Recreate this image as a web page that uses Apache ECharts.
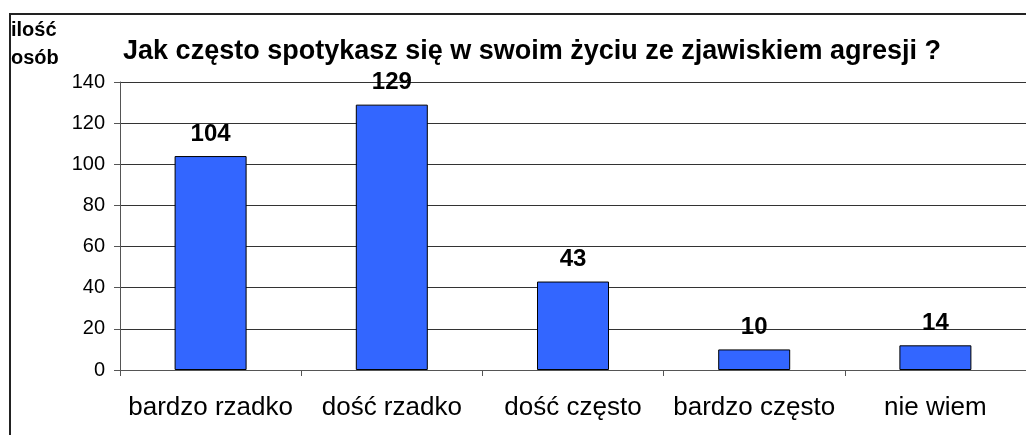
<!DOCTYPE html>
<html>
<head>
<meta charset="utf-8">
<script src="https://cdn.jsdelivr.net/npm/echarts@6/dist/echarts.min.js"></script>
<style>
  html, body { margin: 0; padding: 0; background: #fff; }
  #chart { width: 1026px; height: 435px; }
</style>
</head>
<body>
<div id="chart"></div>
<script>
const categories = ["bardzo rzadko", "dość rzadko", "dość często", "bardzo często", "nie wiem"];
const values = [104, 129, 43, 10, 12];
const valueLabels = ["104", "129", "43", "10", "14"];
const yTicks = [0, 20, 40, 60, 80, 100, 120, 140];

const chart = echarts.init(document.getElementById("chart"));
const font = "Liberation Sans, Arial, sans-serif";

chart.setOption({
  backgroundColor: "#fff",
  animation: false,
  title: {
    text: "Jak często spotykasz się w swoim życiu ze zjawiskiem agresji ?",
    left: 527,
    textAlign: "center",
    top: 33,
    textStyle: { fontFamily: font, fontSize: 27, fontWeight: "bold", color: "#000" }
  },
  graphic: [
    {
      type: "rect",
      shape: { x: 10, y: 14, width: 1030, height: 440 },
      style: { fill: "none", stroke: "#222", lineWidth: 2 },
      silent: true
    },
    {
      type: "text",
      left: 11,
      top: 16,
      style: { text: "ilość\nosób", font: "bold 20px " + font, fill: "#000", lineHeight: 28 }
    }
  ],
  grid: { left: 120, top: 82, width: 910, height: 288, containLabel: false },
  xAxis: {
    type: "category",
    data: categories,
    axisLine: { lineStyle: { color: "#555", width: 1 } },
    axisTick: { show: true, length: 6, lineStyle: { color: "#555" } },
    axisLabel: { interval: 0, hideOverlap: false, fontFamily: font, fontSize: 26, color: "#000", margin: 25 }
  },
  yAxis: {
    type: "value",
    min: yTicks[0],
    max: yTicks[yTicks.length - 1],
    interval: 20,
    axisLine: { show: true, lineStyle: { color: "#555", width: 1 } },
    axisTick: { show: true, length: 6, lineStyle: { color: "#555" } },
    axisLabel: { fontFamily: font, fontSize: 20, color: "#000", margin: 15 },
    splitLine: { show: true, lineStyle: { color: "#333", width: 1 } }
  },
  series: [
    {
      type: "bar",
      data: values,
      barWidth: 72,
      itemStyle: { color: "#3366FF", borderColor: "#000", borderWidth: 1 },
      label: {
        show: true,
        position: "top",
        distance: 10,
        fontFamily: font,
        fontSize: 24,
        fontWeight: "bold",
        color: "#000",
        formatter: (p) => valueLabels[p.dataIndex]
      }
    }
  ]
});
</script>
</body>
</html>
